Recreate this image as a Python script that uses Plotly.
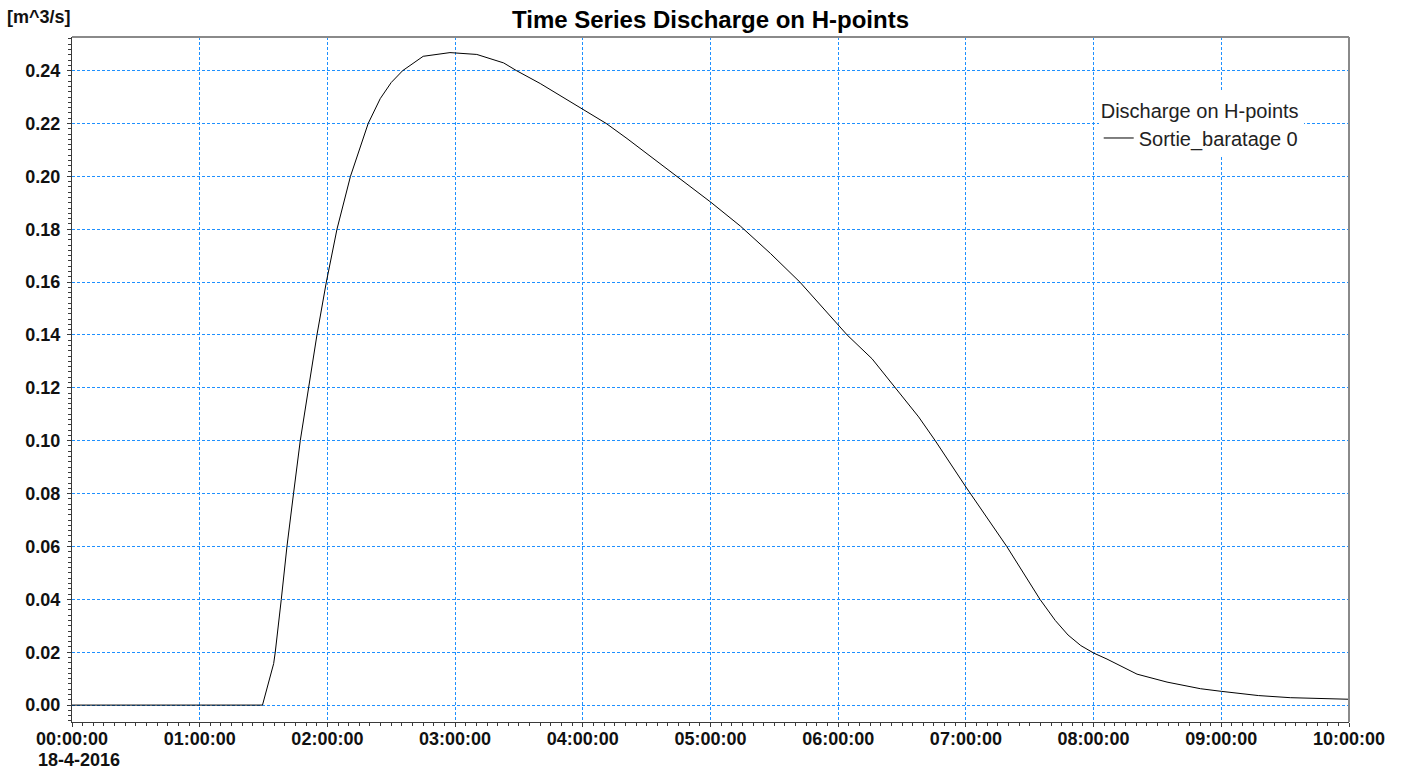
import plotly.graph_objects as go

DATE = "2016-04-18"

# Time series (time of day, discharge in m^3/s)
times = [
    "00:00:00", "01:29:30", "01:34:45", "01:35:30", "01:38:20", "01:41:00",
    "01:44:05", "01:47:15", "01:51:10", "01:55:05", "01:59:30", "02:04:30",
    "02:10:50", "02:19:10", "02:24:50", "02:30:00", "02:35:24", "02:45:00",
    "02:57:36", "03:10:12", "03:22:48", "03:28:48", "03:40:00", "03:44:42",
    "04:00:00", "04:11:00", "04:20:46", "04:44:17", "05:00:00", "05:14:00",
    "05:28:12", "05:42:00", "06:00:00", "06:04:12", "06:15:54", "06:26:49",
    "06:37:48", "06:45:36", "07:00:00", "07:19:12", "07:34:48", "07:42:00",
    "07:48:00", "07:54:00", "08:00:00", "08:06:18", "08:20:24", "08:34:30",
    "08:50:10", "09:00:00", "09:17:24", "09:32:24", "10:00:00",
]
discharge = [
    0.0, 0.0, 0.0157, 0.020, 0.040, 0.060,
    0.080, 0.100, 0.120, 0.140, 0.160, 0.180,
    0.200, 0.220, 0.2294, 0.2355, 0.240, 0.2454,
    0.2468, 0.2461, 0.2429, 0.2400, 0.2351, 0.2328,
    0.2256, 0.2200, 0.2143, 0.2001, 0.1903, 0.1812,
    0.1708, 0.1600, 0.1440, 0.1400, 0.1310, 0.1200,
    0.1090, 0.1000, 0.0825, 0.0600, 0.0400, 0.0320,
    0.0265, 0.0225, 0.0197, 0.0174, 0.0117, 0.0087,
    0.0062, 0.0052, 0.0036, 0.0028, 0.0022,
]

x_tick_times = ["00:00:00", "01:00:00", "02:00:00", "03:00:00", "04:00:00", "05:00:00",
                "06:00:00", "07:00:00", "08:00:00", "09:00:00", "10:00:00"]
x_tick_labels = list(x_tick_times)
y_tick_values = [0.00, 0.02, 0.04, 0.06, 0.08, 0.10, 0.12, 0.14, 0.16, 0.18, 0.20, 0.22, 0.24]
y_tick_labels = ["0.00", "0.02", "0.04", "0.06", "0.08", "0.10", "0.12", "0.14",
                 "0.16", "0.18", "0.20", "0.22", "0.24"]

title_text = "Time Series Discharge on H-points"
y_unit = "[m^3/s]"
date_label = "18-4-2016"
legend_title = "Discharge on H-points"
series_name = "Sortie_baratage 0"

x_vals = [f"{DATE} {t}" for t in times]
x_ticks = [f"{DATE} {t}" for t in x_tick_times]

FONT = "Liberation Sans, Arial, sans-serif"
GRID = "#1E90FF"

fig = go.Figure()
fig.add_trace(go.Scatter(
    x=x_vals, y=discharge, mode="lines", name=series_name,
    line=dict(color="#000000", width=1), showlegend=True,
))

fig.update_layout(
    width=1406, height=769,
    margin=dict(l=72, r=57, t=37, b=47),
    paper_bgcolor="white", plot_bgcolor="white",
    font=dict(family=FONT, color="#111111"),
    title=dict(text=f"<b>{title_text}</b>", x=0.5, xref="paper", xanchor="center",
               y=1 - 20 / 769, yref="container", yanchor="middle",
               font=dict(size=24, color="#000000", family=FONT)),
    showlegend=True,
    legend=dict(
        x=0.804, y=0.919, xanchor="left", yanchor="top",
        bgcolor="white", borderwidth=0,
        title=dict(text=legend_title, font=dict(size=20, color="#222222", family=FONT)),
        font=dict(size=20, color="#222222", family=FONT),
        itemwidth=30,
    ),
    xaxis=dict(
        type="date",
        range=[f"{DATE} 00:00:00", f"{DATE} 10:00:00"],
        tickmode="array", tickvals=x_ticks, ticktext=x_tick_labels,
        tickfont=dict(size=18, family=FONT, color="#111111", weight="bold"),
        ticklabelstandoff=-4,
        showgrid=True, gridcolor=GRID, griddash="3px,2px", gridwidth=1,
        showline=True, linecolor="#3a3a3a", linewidth=1,
        ticks="outside", ticklen=4, tickcolor="#3a3a3a",
        minor=dict(dtick=300000, tick0=f"{DATE} 00:00:00", ticks="outside",
                   ticklen=3, tickcolor="#3a3a3a", showgrid=False),
        zeroline=False,
    ),
    yaxis=dict(
        range=[-0.0064, 0.2527],
        tickmode="array", tickvals=y_tick_values, ticktext=y_tick_labels,
        tickfont=dict(size=18, family=FONT, color="#111111", weight="bold"),
        ticklabelstandoff=3,
        showgrid=True, gridcolor=GRID, griddash="3px,2px", gridwidth=1,
        showline=True, linecolor="#3a3a3a", linewidth=1,
        ticks="outside", ticklen=4, tickcolor="#3a3a3a",
        minor=dict(dtick=0.002, tick0=0, ticks="outside", ticklen=3,
                   tickcolor="#3a3a3a", showgrid=False),
        zeroline=False,
    ),
)

# Top and right frame of the plot area
fig.add_shape(type="line", xref="paper", yref="paper", x0=0, x1=1, y0=1, y1=1,
              line=dict(color="#8a8a8a", width=2))
fig.add_shape(type="line", xref="paper", yref="paper", x0=1, x1=1, y0=0, y1=1,
              line=dict(color="#8a8a8a", width=2))

# Unit label (top-left)
fig.add_annotation(text=f"<b>{y_unit}</b>", xref="paper", yref="paper", x=0, y=1,
                   xanchor="left", yanchor="middle", xshift=-67, yshift=20,
                   showarrow=False, font=dict(size=18, family=FONT, color="#111111"))
# Date under first tick label
fig.add_annotation(text=f"<b>{date_label}</b>", xref="paper", yref="paper", x=0, y=0,
                   xanchor="left", yanchor="top", xshift=-36, yshift=-26,
                   showarrow=False, font=dict(size=18, family=FONT, color="#111111"))

fig.write_html("out.html")
